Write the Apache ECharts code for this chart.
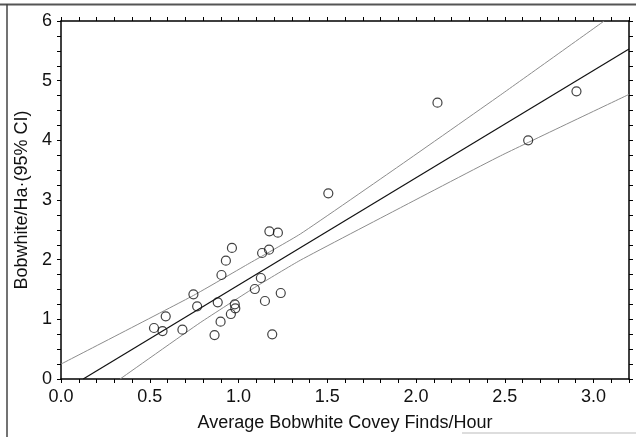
<!DOCTYPE html>
<html>
<head>
<meta charset="utf-8">
<script src="https://cdn.jsdelivr.net/npm/echarts@6/dist/echarts.min.js"></script>
<style>html,body{margin:0;padding:0;background:#fff;}#c{width:636px;height:437px;}</style>
</head>
<body>
<div id="c"></div>
<script>
// Observed points: covey finds/hour (x) and bobwhite per ha (y)
const findsPerHour = [0.524,0.572,0.590,0.684,0.746,0.767,0.865,0.883,0.899,0.904,0.929,0.957,0.963,0.979,0.982,1.092,1.126,1.133,1.149,1.172,1.174,1.190,1.222,1.238,1.506,2.121,2.632,2.904];
const bobwhitePerHa = [0.855,0.804,1.05,0.827,1.419,1.218,0.737,1.285,0.961,1.743,1.983,1.089,2.196,1.251,1.184,1.508,1.693,2.112,1.307,2.168,2.475,0.749,2.453,1.441,3.112,4.631,4.0,4.821];
// Regression line endpoints
const fitX = [0.125, 3.2];
const fitY = [0, 5.53];
// 95% CI band curves
const upperX = [0, 0.746, 1.05, 1.348, 1.91, 2.476, 3.06];
const upperY = [0.25, 1.40, 1.92, 2.43, 3.58, 4.76, 6.0];
const lowerX = [0.333, 0.784, 1.1, 1.348, 1.912, 2.476, 3.2];
const lowerY = [0, 0.944, 1.55, 1.99, 2.87, 3.74, 4.77];
// axis labels
const xTitle = 'Average Bobwhite Covey Finds/Hour';
const yTitle = 'Bobwhite/Ha\u00B7(95% CI)';

const zip = (a, b) => a.map((v, i) => [v, b[i]]);
const font = 'Liberation Sans, Arial, sans-serif';
const chart = echarts.init(document.getElementById('c'));
const mkTick = () => ({show: true, inside: false, length: 4, lineStyle: {color: '#000', width: 1}});
const mkLine = () => ({show: true, onZero: false, lineStyle: {color: '#000', width: 1.5}});
chart.setOption({
  animation: false,
  backgroundColor: '#fff',
  grid: {left: 61, right: 7, top: 21, bottom: 58},
  xAxis: [{
    type: 'value', min: 0, max: 3.2, interval: 0.1, position: 'bottom',
    name: xTitle, nameLocation: 'middle', nameGap: 35,
    nameTextStyle: {fontFamily: font, fontSize: 18, color: '#111'},
    axisLine: mkLine(), axisTick: mkTick(), splitLine: {show: false},
    axisLabel: {margin: 9, fontFamily: font, fontSize: 18, color: '#111',
      formatter: v => (Math.abs(v * 2 - Math.round(v * 2)) < 1e-6 ? v.toFixed(1) : '')}
  }, {
    type: 'value', min: 0, max: 3.2, interval: 0.1, position: 'top',
    axisLine: mkLine(), axisTick: mkTick(), axisLabel: {show: false}, splitLine: {show: false}
  }],
  yAxis: [{
    type: 'value', min: 0, max: 6, interval: 0.25, position: 'left',
    name: yTitle, nameLocation: 'middle', nameGap: 30,
    nameTextStyle: {fontFamily: font, fontSize: 18, color: '#111'},
    axisLine: mkLine(), axisTick: mkTick(), splitLine: {show: false},
    axisLabel: {margin: 9, fontFamily: font, fontSize: 18, color: '#111',
      formatter: v => (Math.abs(v - Math.round(v)) < 1e-6 ? String(Math.round(v)) : '')}
  }, {
    type: 'value', min: 0, max: 6, interval: 0.25, position: 'right',
    axisLine: mkLine(), axisTick: mkTick(), axisLabel: {show: false}, splitLine: {show: false}
  }],
  series: [
    {type: 'line', data: zip(upperX, upperY), smooth: 0.15, symbol: 'none', clip: true,
     lineStyle: {color: '#8c8c8c', width: 1}},
    {type: 'line', data: zip(lowerX, lowerY), smooth: 0.15, symbol: 'none', clip: true,
     lineStyle: {color: '#8c8c8c', width: 1}},
    {type: 'line', data: zip(fitX, fitY), symbol: 'none', clip: true,
     lineStyle: {color: '#111', width: 1.2}},
    {type: 'scatter', data: zip(findsPerHour, bobwhitePerHa), symbol: 'circle', symbolSize: 9,
     itemStyle: {color: 'rgba(255,255,255,0)', borderColor: '#111', borderWidth: 1.2}, z: 5}
  ],
  graphic: [
    {type: 'line', shape: {x1: 0, y1: 4.5, x2: 636, y2: 4.5}, style: {stroke: '#555', lineWidth: 2}},
    {type: 'line', shape: {x1: 7, y1: 4, x2: 7, y2: 437}, style: {stroke: '#444', lineWidth: 1.5}},
    {type: 'line', shape: {x1: 462, y1: 433, x2: 636, y2: 433}, style: {stroke: '#bbb', lineWidth: 1}}
  ]
});
</script>
</body>
</html>
